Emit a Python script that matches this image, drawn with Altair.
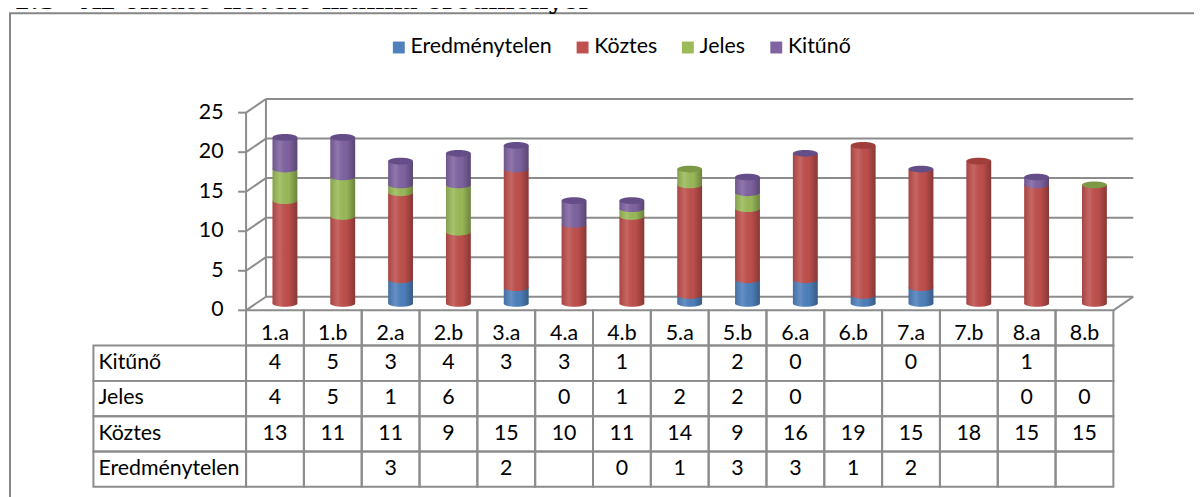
import altair as alt
import pandas as pd

# ---------------- data ----------------
classes = ["1.a", "1.b", "2.a", "2.b", "3.a", "4.a", "4.b", "5.a",
           "5.b", "6.a", "6.b", "7.a", "7.b", "8.a", "8.b"]
series = ["Eredménytelen", "Köztes", "Jeles", "Kitűnő"]
eredmenytelen = [None, None, 3, None, 2, None, 0, 1, 3, 3, 1, 2, None, None, None]
koztes = [13, 11, 11, 9, 15, 10, 11, 14, 9, 16, 19, 15, 18, 15, 15]
jeles = [4, 5, 1, 6, None, 0, 1, 2, 2, 0, None, None, None, 0, 0]
kitunő = [4, 5, 3, 4, 3, 3, 1, None, 2, 0, None, 0, None, 1, None]
y_ticks = [0, 5, 10, 15, 20, 25]
table_rows = ["Kitűnő", "Jeles", "Köztes", "Eredménytelen"]
title_num = "1.3"
title_text = "Az oktató-nevelő munka eredményei"

colors = ["#4F81BD", "#C0504D", "#9BBB59", "#8064A2"]
cap_colors = ["#3D6798", "#A03E3B", "#7D9946", "#654E88"]

# ---------------- style / projection constants ----------------
FONT = "Lato"
FS = 21.5
GRID = "#8c8c8c"
DU = 0.3436      # depth shift in column units
DV = 1.72        # depth shift in value units
HALF = 0.2147    # half bar width in column units
ELL = ("M -1 0 C -1 -0.149 -0.552 -0.27 0 -0.27 C 0.552 -0.27 1 -0.149 1 0 "
       "C 1 0.149 0.552 0.27 0 0.27 C -0.552 0.27 -1 0.149 -1 0 Z")
HALF_ELL = "M -1 0 C -1 0.149 -0.552 0.27 0 0.27 C 0.552 0.27 1 0.149 1 0 Z"
ESIZE = 625

X = alt.Scale(domain=[-2.64, 15.36], range=[86, 1133.8])
Y3 = alt.Scale(domain=[0, 25], range=[302.7, 103.7])
YT = alt.Scale(domain=[0, 5], range=[302.7, 480.3])

values_by_series = {"Eredménytelen": eredmenytelen, "Köztes": koztes,
                    "Jeles": jeles, "Kitűnő": kitunő}

# ---------------- derived tables ----------------
seg_rows, tot_rows = [], []
for i, c in enumerate(classes):
    cum = 0
    last = None
    for k, s in enumerate(series):
        v = values_by_series[s][i]
        if v is None:
            continue
        xc = i + 0.5 + DU / 2
        seg_rows.append(dict(cls=c, series=s, value=v, xc=xc, xl=xc - HALF,
                             xr=xc + HALF, b0=cum + DV / 2, b1=cum + v + DV / 2))
        cum += v
        last = s
    xc = i + 0.5 + DU / 2
    tot_rows.append(dict(cls=c, cap=last, xc=xc, xl=xc - HALF, xr=xc + HALF,
                         b0=DV / 2, b1=cum + DV / 2))
seg = pd.DataFrame(seg_rows)
tot = pd.DataFrame(tot_rows)

lines = []
for t in y_ticks:
    lines.append(dict(xa=DU, ya=t + DV, xb=15 + DU, yb=t + DV))   # back wall grid
    lines.append(dict(xa=0, ya=t, xb=DU, yb=t + DV))              # side wall grid
    lines.append(dict(xa=-8 / 58.21, ya=t, xb=0, yb=t))          # ticks
lines.append(dict(xa=DU, ya=DV, xb=DU, yb=25 + DV))
lines.append(dict(xa=0, ya=0, xb=0, yb=25))
lines.append(dict(xa=15, ya=0, xb=15 + DU, yb=DV))
lines = pd.DataFrame(lines)

cells = []
for i in range(len(classes)):
    cells.append(dict(xa=i, xb=i + 1, ya=0, yb=1))
for r in range(len(table_rows)):
    cells.append(dict(xa=-2.64, xb=0, ya=r + 1, yb=r + 2))
    for i in range(len(classes)):
        cells.append(dict(xa=i, xb=i + 1, ya=r + 1, yb=r + 2))
cells = pd.DataFrame(cells)

cat_df = pd.DataFrame(dict(x=[i + 0.5 for i in range(len(classes))], y=0.5, t=classes))
row_df = pd.DataFrame(dict(x=-2.64, y=[r + 1.5 for r in range(len(table_rows))], t=table_rows))
val_rows = []
for r, s in enumerate(table_rows):
    for i, v in enumerate(values_by_series[s]):
        if v is not None:
            val_rows.append(dict(x=i + 0.5, y=r + 1.5, t=str(v)))
val_df = pd.DataFrame(val_rows)
tick_df = pd.DataFrame(dict(x=-0.39, y=y_ticks, t=[str(t) for t in y_ticks]))
title_df = pd.DataFrame(dict(x=[5, 74], t=[title_num, title_text]))

shade = alt.Gradient(
    gradient="linear", x1=0, x2=1, y1=0, y2=0,
    stops=[alt.GradientStop(offset=0, color="rgba(0,0,0,0.14)"),
           alt.GradientStop(offset=0.3, color="rgba(255,255,255,0.12)"),
           alt.GradientStop(offset=0.65, color="rgba(0,0,0,0.02)"),
           alt.GradientStop(offset=1, color="rgba(0,0,0,0.30)")])

noax = dict(axis=None)

# ---------------- layers ----------------
frame = alt.Chart(pd.DataFrame({"a": [0]})).mark_rect(
    fill="transparent", stroke="#868686", strokeWidth=2).encode(
    x=alt.value(2), x2=alt.value(1400), y=alt.value(3.7), y2=alt.value(800))

title = alt.Chart(title_df).mark_text(
    font="DejaVu Serif", fontWeight="bold", fontSize=25, align="left",
    baseline="alphabetic", color="#000").encode(
    x=alt.X("x:Q", scale=alt.Scale(domain=[0, 1194], range=[0, 1194]), **noax),
    y=alt.value(-1), text="t:N")

wall = alt.Chart(lines).mark_rule(color=GRID, strokeWidth=2).encode(
    x=alt.X("xa:Q", scale=X, **noax), x2="xb:Q",
    y=alt.Y("ya:Q", scale=Y3, **noax), y2="yb:Q")

cell = alt.Chart(cells).mark_rect(fill="transparent", stroke=GRID, strokeWidth=2).encode(
    x=alt.X("xa:Q", scale=X, **noax), x2="xb:Q",
    y=alt.Y("ya:Q", scale=YT, **noax), y2="yb:Q")

cat_text = alt.Chart(cat_df).mark_text(font=FONT, fontSize=FS, color="#000", dy=6).encode(
    x=alt.X("x:Q", scale=X, **noax), y=alt.Y("y:Q", scale=YT, **noax), text="t:N")
row_text = alt.Chart(row_df).mark_text(font=FONT, fontSize=FS, color="#000",
                                       align="left", dx=5).encode(
    x=alt.X("x:Q", scale=X, **noax), y=alt.Y("y:Q", scale=YT, **noax), text="t:N")
val_text = alt.Chart(val_df).mark_text(font=FONT, fontSize=FS, color="#000").encode(
    x=alt.X("x:Q", scale=X, **noax), y=alt.Y("y:Q", scale=YT, **noax), text="t:N")
tick_text = alt.Chart(tick_df).mark_text(font=FONT, fontSize=FS, color="#000",
                                         align="right").encode(
    x=alt.X("x:Q", scale=X, **noax), y=alt.Y("y:Q", scale=Y3, **noax), text="t:N")

seg_rect = alt.Chart(seg).mark_rect().encode(
    x=alt.X("xl:Q", scale=X, **noax), x2="xr:Q",
    y=alt.Y("b0:Q", scale=Y3, **noax), y2="b1:Q",
    color=alt.Color("series:N", scale=alt.Scale(domain=series, range=colors),
                    legend=alt.Legend(orient="none", legendX=382.7, legendY=27,
                                      direction="horizontal", title=None,
                                      symbolType="square", symbolSize=144,
                                      symbolStrokeWidth=0, labelFont=FONT,
                                      labelFontSize=FS, labelColor="#000",
                                      labelOffset=1, columnPadding=20, padding=0)))

seg_ell = alt.Chart(seg[seg["value"] > 0]).mark_point(
    shape=ELL, size=ESIZE, filled=True, opacity=1, strokeWidth=0).encode(
    x=alt.X("xc:Q", scale=X, **noax), y=alt.Y("b0:Q", scale=Y3, **noax),
    fill=alt.Fill("series:N", scale=alt.Scale(domain=series, range=colors), legend=None))

over_rect = alt.Chart(tot).mark_rect(fill=shade).encode(
    x=alt.X("xl:Q", scale=X, **noax), x2="xr:Q",
    y=alt.Y("b0:Q", scale=Y3, **noax), y2="b1:Q")

over_bot = alt.Chart(tot).mark_point(
    shape=HALF_ELL, size=ESIZE, filled=True, fill=shade, opacity=1, strokeWidth=0).encode(
    x=alt.X("xc:Q", scale=X, **noax), y=alt.Y("b0:Q", scale=Y3, **noax))

cap = alt.Chart(tot).mark_point(
    shape=ELL, size=ESIZE, filled=True, opacity=1, strokeWidth=0).encode(
    x=alt.X("xc:Q", scale=X, **noax), y=alt.Y("b1:Q", scale=Y3, **noax),
    fill=alt.Fill("cap:N", scale=alt.Scale(domain=series, range=cap_colors), legend=None))

chart = alt.layer(
    frame, title, wall, cell, cat_text, row_text, val_text, tick_text,
    seg_rect, seg_ell, over_rect, over_bot, cap
).resolve_scale(
    x="independent", y="independent", fill="independent"
).properties(
    width=1194, height=489, padding=0,
    autosize=alt.AutoSizeParams(type="none")
).configure_view(stroke=None)

chart.save("out.html", embed_options={"renderer": "svg", "actions": False})
